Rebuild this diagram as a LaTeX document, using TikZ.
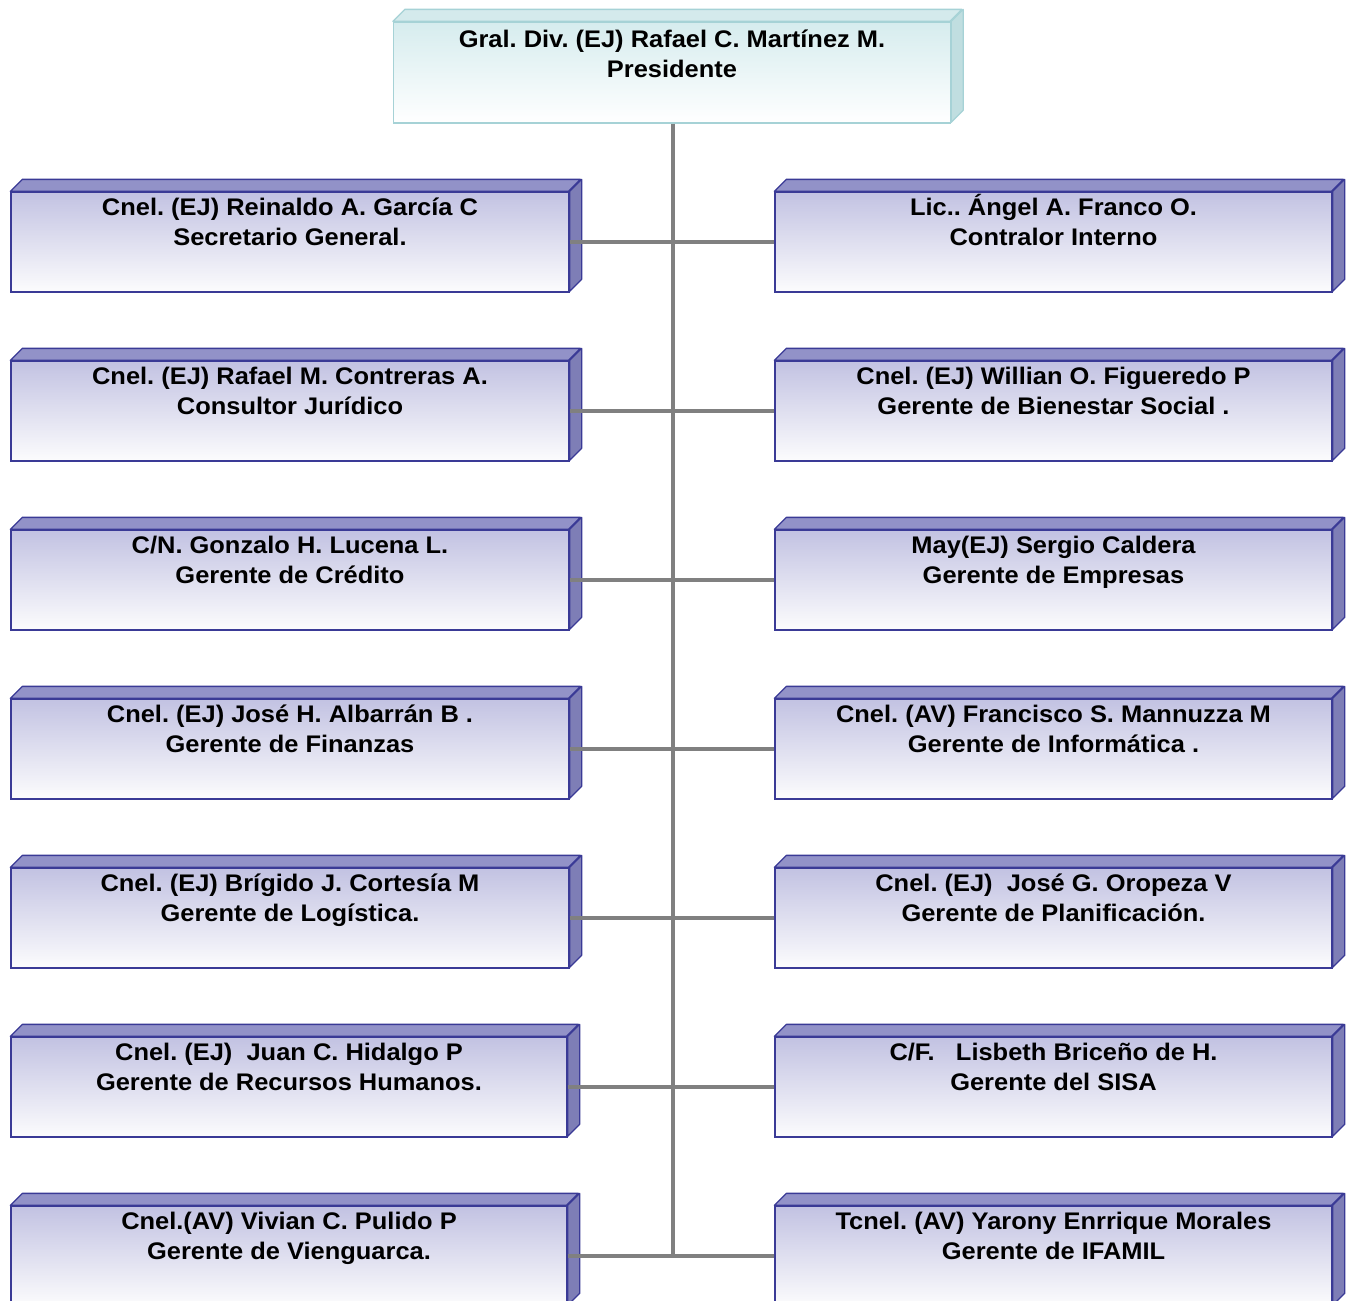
\documentclass[tikz,border=0pt]{standalone}
\usepackage{fontspec}
\setmainfont{Liberation Sans}
\newfontfamily\boxfont[FakeStretch=1.06]{Liberation Sans}
\definecolor{bline}{RGB}{58,58,150}
\definecolor{bfront}{RGB}{194,194,226}
\definecolor{bbot}{RGB}{252,252,253}
\definecolor{btop}{RGB}{146,146,200}
\definecolor{bside}{RGB}{126,126,182}
\definecolor{cline}{RGB}{166,210,214}
\definecolor{cfront}{RGB}{214,236,238}
\definecolor{cbot}{RGB}{255,255,255}
\definecolor{ctop}{RGB}{212,234,236}
\definecolor{cside}{RGB}{192,222,224}
\definecolor{conn}{RGB}{128,128,128}
\tikzset{
  boxtext/.style={anchor=base, inner sep=0pt, font=\boxfont\frenchspacing\fontsize{24}{30}\selectfont\bfseries},
  connector/.style={draw=conn, line width=4.5pt}
}
\newcommand\orgbox[9]{%
  \node[draw=#6line, line width=1.3pt, top color=#6front, bottom color=#6bot,
        minimum width=#4pt, minimum height=#5pt, inner sep=0pt] (#1) at (#2,#3) {};
  \filldraw[draw=#6line, line width=1.3pt, fill=#6top, line join=round]
    (#1.north west) -- ++(12,-12) -- ++(#4,0) -- ++(-12,12) -- cycle;
  \filldraw[draw=#6line, line width=1.3pt, fill=#6side, line join=round]
    (#1.north east) -- ++(12,-12) -- ++(0,#5) -- ++(-12,12) -- cycle;
  \node[boxtext] (#1a) at ([yshift=-#9pt]#1.north) {#7};
  \node[boxtext] (#1b) at ([yshift=-#9pt-30pt]#1.north) {#8};
}
\begin{document}
\begin{tikzpicture}[x=1pt,y=-1pt]
\useasboundingbox (0,0) rectangle (1355,1301);
\fill[white] (0,0) rectangle (1355,1301);
% top
\orgbox{top}{672}{72.5}{557}{101}{c}{Gral. Div. (EJ) Rafael C. Martínez M.}{Presidente}{26.5}
% left column
\orgbox{L1}{290}{242}{558}{100}{b}{Cnel. (EJ) Reinaldo A. García C}{Secretario General.}{24.5}
\orgbox{L2}{290}{411}{558}{100}{b}{Cnel. (EJ) Rafael M. Contreras A.}{Consultor Jurídico}{24.5}
\orgbox{L3}{290}{580}{558}{100}{b}{C/N. Gonzalo H. Lucena L.}{Gerente de Crédito}{24.5}
\orgbox{L4}{290}{749}{558}{100}{b}{Cnel. (EJ) José H. Albarrán B .}{Gerente de Finanzas}{24.5}
\orgbox{L5}{290}{918}{558}{100}{b}{Cnel. (EJ) Brígido J. Cortesía M}{Gerente de Logística.}{24.5}
\orgbox{L6}{289}{1087}{556}{100}{b}{Cnel. (EJ)\ \ Juan C. Hidalgo P}{Gerente de Recursos Humanos.}{24.5}
\orgbox{L7}{289}{1256}{556}{100}{b}{Cnel.(AV) Vivian C. Pulido P}{Gerente de Vienguarca.}{24.5}
% right column
\orgbox{R1}{1053.5}{242}{557}{100}{b}{Lic.. Ángel A. Franco O.}{Contralor Interno}{24.5}
\orgbox{R2}{1053.5}{411}{557}{100}{b}{Cnel. (EJ) Willian O. Figueredo P}{Gerente de Bienestar Social .}{24.5}
\orgbox{R3}{1053.5}{580}{557}{100}{b}{May(EJ) Sergio Caldera}{Gerente de Empresas}{24.5}
\orgbox{R4}{1053.5}{749}{557}{100}{b}{Cnel. (AV) Francisco S. Mannuzza M}{Gerente de Informática .}{24.5}
\orgbox{R5}{1053.5}{918}{557}{100}{b}{Cnel. (EJ)\ \ José G. Oropeza V}{Gerente de Planificación.}{24.5}
\orgbox{R6}{1053.5}{1087}{557}{100}{b}{C/F.\ \ \ Lisbeth Briceño de H.}{Gerente del SISA}{24.5}
\orgbox{R7}{1053.5}{1256}{557}{100}{b}{Tcnel. (AV) Yarony Enrrique Morales}{Gerente de IFAMIL}{24.5}
% connectors
\coordinate (spineend) at (673,1258);
\draw[connector] (top.south -| spineend) -- (spineend);
\foreach \i in {1,...,7}{
  \draw[connector] (L\i.east) -- (R\i.west);
}
\end{tikzpicture}
\end{document}
